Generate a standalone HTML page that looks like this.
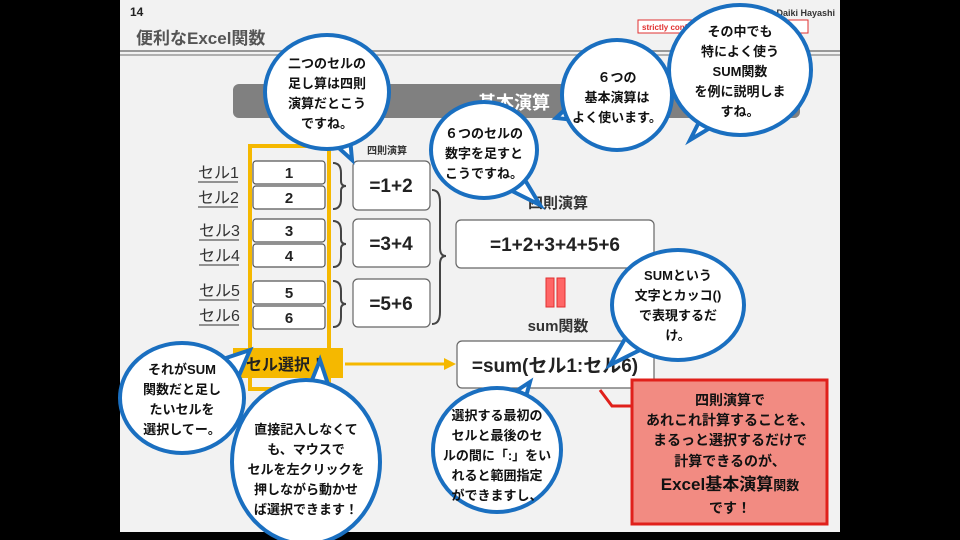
<!DOCTYPE html>
<html><head><meta charset="utf-8"><style>
body{margin:0;background:#000;width:960px;height:540px;overflow:hidden}
svg{display:block}
text{font-family:"Liberation Sans","Noto Sans CJK JP",sans-serif;font-weight:bold}
</style></head><body>
<svg width="960" height="540" viewBox="0 0 960 540">
<rect x="120" y="0" width="720" height="532" fill="#f2f2f2"/>
<text x="130" y="16" font-size="12" fill="#222">14</text>
<text x="835" y="16" font-size="9" fill="#333" text-anchor="end" font-weight="normal">(C) Daiki Hayashi</text>
<rect x="638" y="20" width="170" height="13" fill="#fff" stroke="#e03030"/>
<text x="642" y="30" font-size="8" fill="#e03030" font-weight="normal">strictly confidential (無断転載禁止)</text>
<text x="136" y="44" font-size="17" fill="#555">便利なExcel関数</text>
<line x1="120" y1="51" x2="840" y2="51" stroke="#999" stroke-width="2"/>
<line x1="120" y1="55" x2="840" y2="55" stroke="#999" stroke-width="1.5"/>
<rect x="233" y="84" width="567" height="34" rx="6" fill="#808080"/>
<text x="478" y="109" font-size="18" fill="#fff">基本演算</text>

<g font-size="16" fill="#333">
<text x="198" y="178" style="font-weight:normal">セル1</text><text x="198" y="203" style="font-weight:normal">セル2</text>
<text x="199" y="236" style="font-weight:normal">セル3</text><text x="199" y="261" style="font-weight:normal">セル4</text>
<text x="199" y="296" style="font-weight:normal">セル5</text><text x="199" y="321" style="font-weight:normal">セル6</text>
</g>
<g stroke="#333" stroke-width="1" fill="none"><line x1="198" y1="182" x2="238" y2="182"/><line x1="198" y1="207" x2="238" y2="207"/><line x1="199" y1="240" x2="239" y2="240"/><line x1="199" y1="265" x2="239" y2="265"/><line x1="199" y1="300" x2="239" y2="300"/><line x1="199" y1="325" x2="239" y2="325"/></g>

<g fill="#fff" stroke="#555" stroke-width="1.2">
<rect x="253" y="161" width="72" height="23" rx="3"/><rect x="253" y="186" width="72" height="23" rx="3"/>
<rect x="253" y="219" width="72" height="23" rx="3"/><rect x="253" y="244" width="72" height="23" rx="3"/>
<rect x="253" y="281" width="72" height="23" rx="3"/><rect x="253" y="306" width="72" height="23" rx="3"/>
</g>
<g font-size="15" fill="#222" text-anchor="middle">
<text x="289" y="178">1</text><text x="289" y="203">2</text><text x="289" y="236">3</text><text x="289" y="261">4</text><text x="289" y="298">5</text><text x="289" y="323">6</text>
</g>
<rect x="250" y="146" width="79" height="243" fill="none" stroke="#f5b800" stroke-width="4"/>

<g stroke="#444" stroke-width="2" fill="none">
<path d="M333 163 q8 0 8 10 v8 q0 5 5 5 q-5 0 -5 5 v8 q0 10 -8 10"/>
<path d="M333 221 q8 0 8 10 v8 q0 5 5 5 q-5 0 -5 5 v8 q0 10 -8 10"/>
<path d="M333 281 q8 0 8 10 v8 q0 5 5 5 q-5 0 -5 5 v8 q0 10 -8 10"/>
<path d="M432 190 q8 0 8 12 v46 q0 8 6 8 q-6 0 -6 8 v48 q0 12 -8 12"/>
</g>
<g fill="#fff" stroke="#666" stroke-width="1.2">
<rect x="353" y="161" width="77" height="49" rx="5"/><rect x="353" y="219" width="77" height="48" rx="5"/><rect x="353" y="279" width="77" height="48" rx="5"/>
<rect x="456" y="220" width="198" height="48" rx="5"/><rect x="457" y="341" width="197" height="47" rx="5"/>
</g>
<g font-size="19" fill="#222" text-anchor="middle">
<text x="391" y="192">=1+2</text><text x="391" y="250">=3+4</text><text x="391" y="310">=5+6</text>
<text x="555" y="251">=1+2+3+4+5+6</text><text x="555" y="372">=sum(セル1:セル6)</text>
</g>
<text x="367" y="154" font-size="10" fill="#333">四則演算</text>
<text x="558" y="208" font-size="15" fill="#333" text-anchor="middle">四則演算</text>
<text x="558" y="331" font-size="15" fill="#333" text-anchor="middle">sum関数</text>
<rect x="546" y="278" width="8" height="29" fill="#f66" stroke="#e03030"/>
<rect x="557" y="278" width="8" height="29" fill="#f66" stroke="#e03030"/>

<rect x="233" y="348" width="110" height="30" fill="#f5b800"/>
<text x="246" y="370" font-size="16" fill="#222">セル選択！</text>
<line x1="345" y1="364" x2="445" y2="364" stroke="#f5b800" stroke-width="3"/>
<polygon points="444,358 456,364 444,370" fill="#f5b800"/>

<polyline points="600,390 612,406 632,406" fill="none" stroke="#e0201b" stroke-width="3"/>
<rect x="632" y="380" width="195" height="144" fill="#f28b82" stroke="#e0201b" stroke-width="3"/>
<g font-size="14" fill="#111" text-anchor="middle">
<text x="730" y="405">四則演算で</text><text x="730" y="425">あれこれ計算することを、</text><text x="730" y="445">まるっと選択するだけで</text><text x="730" y="466">計算できるのが、</text>
<text x="730" y="490" font-size="17">Excel基本演算<tspan font-size="13">関数</tspan></text><text x="730" y="513">です！</text>
</g>

<g fill="#fff" stroke="#1a6fc0" stroke-width="4">
<path d="M330 140 L352 160 L350 138 Z"/><ellipse cx="327" cy="92" rx="62" ry="57"/>
<path d="M510 190 L540 205 L525 180 Z"/><ellipse cx="484" cy="150" rx="53" ry="48"/>
<path d="M575 100 L556 118 L575 120 Z"/><ellipse cx="617" cy="95" rx="55" ry="55"/>
<path d="M700 120 L690 140 L715 125 Z"/><ellipse cx="740" cy="70" rx="71" ry="65"/>
<path d="M630 330 L610 365 L650 345 Z"/><ellipse cx="678" cy="305" rx="66" ry="55"/>
<path d="M220 360 L250 350 L235 385 Z"/><ellipse cx="182" cy="398" rx="62" ry="55"/>
<path d="M310 385 L320 360 L330 390 Z"/><ellipse cx="306" cy="462" rx="74" ry="82"/>
<path d="M510 395 L530 382 L525 400 Z"/><ellipse cx="497" cy="450" rx="64" ry="62"/>
</g>
<g font-size="13" fill="#111" text-anchor="middle">
<text x="327" y="68">二つのセルの</text><text x="327" y="88">足し算は四則</text><text x="327" y="108">演算だとこう</text><text x="327" y="128">ですね。</text>
<text x="484" y="138">６つのセルの</text><text x="484" y="158">数字を足すと</text><text x="484" y="178">こうですね。</text>
<text x="617" y="82">６つの</text><text x="617" y="102">基本演算は</text><text x="617" y="122">よく使います。</text>
<text x="740" y="36">その中でも</text><text x="740" y="56">特によく使う</text><text x="740" y="76">SUM関数</text><text x="740" y="96">を例に説明しま</text><text x="740" y="116">すね。</text>
<text x="678" y="280">SUMという</text><text x="678" y="300">文字とカッコ()</text><text x="678" y="320">で表現するだ</text><text x="678" y="340">け。</text>
<text x="182" y="374">それがSUM</text><text x="182" y="394">関数だと足し</text><text x="182" y="414">たいセルを</text><text x="182" y="434">選択してー。</text>
<text x="306" y="434">直接記入しなくて</text><text x="306" y="454">も、マウスで</text><text x="306" y="474">セルを左クリックを</text><text x="306" y="494">押しながら動かせ</text><text x="306" y="514">ば選択できます！</text>
<text x="497" y="420">選択する最初の</text><text x="497" y="440">セルと最後のセ</text><text x="497" y="460">ルの間に「:」をい</text><text x="497" y="480">れると範囲指定</text><text x="497" y="500">ができますし、</text>
</g>
</svg>
</body></html>
